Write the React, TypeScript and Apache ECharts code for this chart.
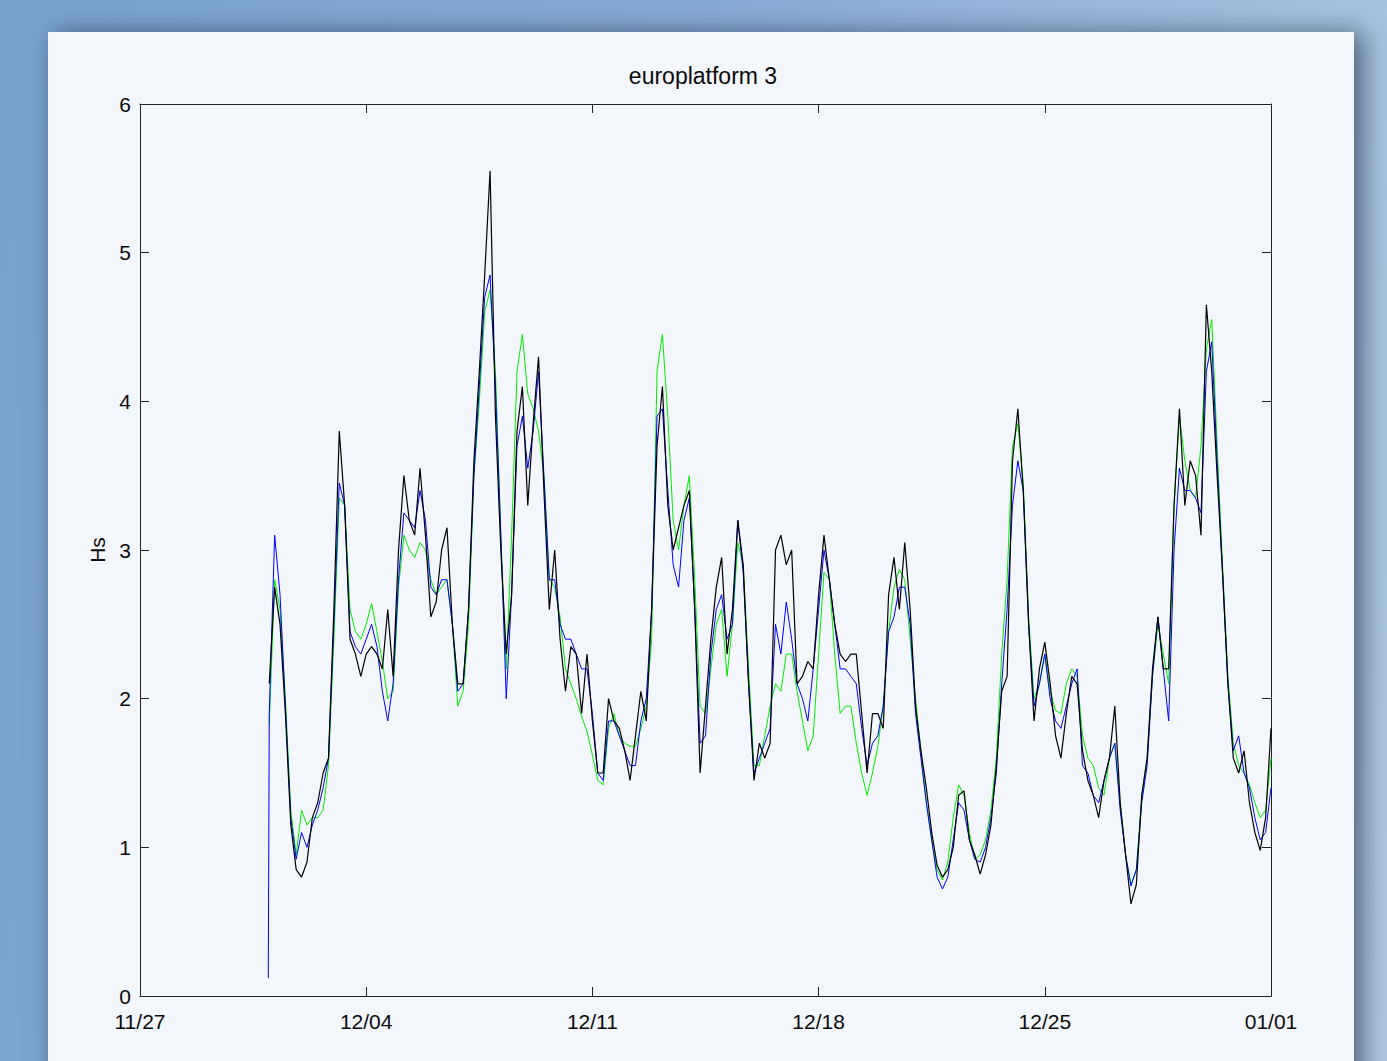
import React, { useEffect, useRef } from "react";
import * as echarts from "echarts";

// ---- data -------------------------------------------------------------
const titleText = "europlatform 3";
const yAxisName = "Hs";
const xTickLabels = ["11/27", "12/04", "12/11", "12/18", "12/25", "01/01"];
const xSpanDays = 35; // 11/27 .. 01/01
const xTickDays = 7;
const yMin = 0;
const yMax = 6;
const yStep = 1;

const firstDay = 4; // 12/01 00:00, in days after 11/27
const stepDays = 1 / 6; // 4-hourly samples
const blueInitial = 0.12; // first blue sample just before 12/01 00:00
const blueInitialDay = 3.97;

// observed (black), 6 samples per day from 12/01 to 01/01
const observed = [
  2.1, 2.75, 2.5, 1.9, 1.15, 0.85,
  0.8, 0.9, 1.2, 1.3, 1.5, 1.6,
  2.6, 3.8, 3.3, 2.4, 2.3, 2.15,
  2.3, 2.35, 2.3, 2.2, 2.6, 2.15,
  3.0, 3.5, 3.2, 3.1, 3.55, 3.1,
  2.55, 2.65, 3.0, 3.15, 2.5, 2.1,
  2.1, 2.6, 3.6, 4.2, 4.85, 5.55,
  3.9, 3.0, 2.3, 2.7, 3.8, 4.1,
  3.3, 3.85, 4.3, 3.4, 2.6, 3.0,
  2.4, 2.05, 2.35, 2.3, 1.9, 2.3,
  1.85, 1.5, 1.5, 2.0, 1.85, 1.8,
  1.65, 1.45, 1.75, 2.05, 1.85, 2.6,
  3.7, 4.1, 3.3, 3.0, 3.15, 3.3,
  3.4, 2.6, 1.5, 1.95, 2.4, 2.75,
  2.95, 2.3, 2.6, 3.2, 2.9, 2.1,
  1.45, 1.7, 1.6, 1.7, 3.0, 3.1,
  2.9, 3.0, 2.1, 2.15, 2.25, 2.2,
  2.7, 3.1, 2.8, 2.5, 2.3, 2.25,
  2.3, 2.3, 1.9, 1.5, 1.9, 1.9,
  1.8, 2.7, 2.95, 2.6, 3.05, 2.6,
  1.95, 1.65, 1.4, 1.1, 0.88, 0.8,
  0.85, 1.0, 1.35, 1.38, 1.05, 0.95,
  0.82, 0.95, 1.15, 1.55, 2.05, 2.15,
  3.6, 3.95, 3.4, 2.5, 1.85, 2.2,
  2.38, 2.1, 1.75, 1.6, 1.9, 2.15,
  2.1, 1.65, 1.45, 1.35, 1.2, 1.45,
  1.6, 1.95, 1.3, 0.95, 0.62, 0.75,
  1.35, 1.6, 2.2, 2.55, 2.2, 2.2,
  3.3, 3.95, 3.3, 3.6, 3.5, 3.1,
  4.65, 4.2, 3.5, 2.85, 2.1, 1.6,
  1.5, 1.65, 1.3, 1.1, 0.98, 1.2,
  1.8,
];

// model (blue)
const modelBlue = [
  1.9, 3.1, 2.7, 1.95, 1.2, 0.92,
  1.1, 1.0, 1.15, 1.25, 1.4, 1.6,
  2.5, 3.45, 3.3, 2.45, 2.35, 2.3,
  2.4, 2.5, 2.35, 2.05, 1.85, 2.1,
  2.8, 3.25, 3.2, 3.15, 3.4, 3.2,
  2.75, 2.7, 2.8, 2.8, 2.5, 2.05,
  2.1, 2.6, 3.5, 4.1, 4.7, 4.85,
  4.1, 3.1, 2.0, 2.7, 3.7, 3.9,
  3.55, 3.8, 4.2, 3.5, 2.8, 2.8,
  2.5, 2.4, 2.4, 2.3, 2.2, 2.2,
  1.9, 1.5, 1.45, 1.85, 1.85, 1.75,
  1.65, 1.55, 1.55, 1.85, 2.0, 2.6,
  3.9, 3.95, 3.4, 2.9, 2.75, 3.2,
  3.35, 2.6, 1.7, 1.75, 2.3, 2.6,
  2.7, 2.4, 2.5, 3.2, 2.85, 2.1,
  1.5, 1.6, 1.7, 1.8, 2.5, 2.3,
  2.65, 2.4, 2.1, 2.0, 1.85, 2.2,
  2.6, 3.0, 2.8, 2.5, 2.2, 2.2,
  2.15, 2.1, 1.8, 1.55, 1.7, 1.75,
  1.95, 2.45, 2.55, 2.75, 2.75, 2.5,
  1.9, 1.6, 1.3, 1.05, 0.8, 0.72,
  0.8, 1.05, 1.3, 1.25, 1.05, 0.92,
  0.9, 1.0, 1.2, 1.5, 2.1, 2.6,
  3.3, 3.6, 3.4, 2.5, 1.95, 2.1,
  2.3, 2.0, 1.85, 1.8, 1.95, 2.1,
  2.2, 1.55, 1.5, 1.35, 1.3, 1.45,
  1.6, 1.7, 1.25, 0.95, 0.74, 0.85,
  1.3, 1.55, 2.15, 2.55, 2.2, 1.85,
  3.0, 3.55, 3.4, 3.4, 3.35, 3.25,
  4.2, 4.4, 3.6, 2.85, 2.1, 1.65,
  1.75, 1.5, 1.4, 1.2, 1.05, 1.1,
  1.4,
];

// model (green)
const modelGreen = [
  1.82, 2.8, 2.6, 2.0, 1.25, 0.95,
  1.25, 1.15, 1.2, 1.2, 1.25, 1.55,
  2.4, 3.35, 3.3, 2.6, 2.45, 2.4,
  2.5, 2.64, 2.45, 2.25, 2.0, 2.05,
  2.75, 3.1, 3.0, 2.95, 3.05, 3.0,
  2.8, 2.7, 2.75, 2.8, 2.5, 1.95,
  2.05, 2.5, 3.5, 4.0, 4.6, 4.75,
  4.2, 3.1, 2.2, 3.1, 4.2, 4.45,
  4.05, 3.95, 3.8, 3.5, 2.8, 2.75,
  2.55, 2.2, 2.1, 2.0, 1.88, 1.78,
  1.62, 1.45, 1.42, 1.8, 1.9, 1.75,
  1.7, 1.68, 1.68, 1.8, 1.95, 2.4,
  4.2, 4.45, 3.9, 3.2, 3.0, 3.3,
  3.5, 2.8, 1.95, 1.9, 2.2, 2.5,
  2.6, 2.15, 2.5, 3.05, 2.9, 2.2,
  1.55, 1.55, 1.75, 1.95, 2.1, 2.05,
  2.3, 2.3, 2.05, 1.85, 1.65, 1.75,
  2.3, 2.85, 2.8, 2.3, 1.9, 1.95,
  1.95, 1.7, 1.5, 1.35, 1.5, 1.68,
  1.95, 2.45, 2.75, 2.87, 2.8, 2.4,
  2.0, 1.65, 1.3, 1.05, 0.85, 0.78,
  0.9, 1.2, 1.42, 1.35, 1.1, 0.92,
  0.95, 1.05, 1.25, 1.6, 2.3, 2.8,
  3.7, 3.85, 3.45, 2.55, 2.0, 2.1,
  2.3, 2.05, 1.92, 1.9, 2.1, 2.2,
  2.15, 1.75, 1.6, 1.55, 1.4, 1.35,
  1.6, 1.7, 1.3, 0.95, 0.75, 0.85,
  1.35, 1.6, 2.15, 2.5, 2.3, 2.1,
  3.3, 3.9, 3.6, 3.4, 3.35, 3.7,
  4.35, 4.55, 3.7, 2.9, 2.15, 1.7,
  1.55, 1.5, 1.42, 1.3, 1.2, 1.25,
  1.6,
];

// ---- helpers ----------------------------------------------------------
const toPairs = (vals: number[]) =>
  vals.map((v, i) => [firstDay + i * stepDays, v]);

const FONT = "'Liberation Sans', Arial, Helvetica, sans-serif";
const AXIS_COLOR = "#222";

export default function App() {
  const ref = useRef<HTMLDivElement>(null);

  useEffect(() => {
    document.body.style.margin = "0";
    if (!ref.current) return;
    const chart = echarts.init(ref.current, undefined, { renderer: "svg" });

    const axisLine = { show: true, onZero: false, lineStyle: { color: AXIS_COLOR, width: 1 } };
    const axisTick = { show: true, inside: true, length: 9, lineStyle: { color: AXIS_COLOR, width: 1 } };
    const labelStyle = { color: "#0a0a0a", fontFamily: FONT, fontSize: 21 };

    const blueData = [[blueInitialDay, blueInitial], ...toPairs(modelBlue)];

    chart.setOption({
      animation: false,
      backgroundColor: "transparent",
      grid: { left: 140, right: 116, top: 104, bottom: 65, show: false },
      graphic: [
        {
          type: "text",
          x: 703,
          y: 76,
          style: {
            text: titleText,
            fill: "#0a0a0a",
            font: `23px ${FONT}`,
            textAlign: "center",
            textVerticalAlign: "middle",
          },
        },
      ],
      xAxis: [
        {
          type: "value",
          min: 0,
          max: xSpanDays,
          interval: xTickDays,
          position: "bottom",
          axisLine,
          axisTick,
          splitLine: { show: false },
          axisLabel: {
            ...labelStyle,
            margin: 15,
            formatter: (v: number) => xTickLabels[Math.round(v / xTickDays)] ?? "",
          },
        },
        {
          type: "value",
          min: 0,
          max: xSpanDays,
          interval: xTickDays,
          position: "top",
          axisLine,
          axisTick,
          splitLine: { show: false },
          axisLabel: { show: false },
        },
      ],
      yAxis: [
        {
          type: "value",
          min: yMin,
          max: yMax,
          interval: yStep,
          position: "left",
          name: yAxisName,
          nameLocation: "middle",
          nameGap: 30,
          nameRotate: 90,
          nameTextStyle: { ...labelStyle },
          axisLine,
          axisTick,
          splitLine: { show: false },
          axisLabel: { ...labelStyle, margin: 9 },
        },
        {
          type: "value",
          min: yMin,
          max: yMax,
          interval: yStep,
          position: "right",
          axisLine,
          axisTick,
          splitLine: { show: false },
          axisLabel: { show: false },
        },
      ],
      series: [
        {
          name: "green",
          type: "line",
          data: toPairs(modelGreen),
          showSymbol: false,
          symbol: "none",
          lineStyle: { color: "#00ee00", width: 1 },
          itemStyle: { color: "#00ee00" },
          xAxisIndex: 0,
          yAxisIndex: 0,
          z: 2,
        },
        {
          name: "blue",
          type: "line",
          data: blueData,
          showSymbol: false,
          symbol: "none",
          lineStyle: { color: "#0000ff", width: 1 },
          itemStyle: { color: "#0000ff" },
          xAxisIndex: 0,
          yAxisIndex: 0,
          z: 3,
        },
        {
          name: "observed",
          type: "line",
          data: toPairs(observed),
          showSymbol: false,
          symbol: "none",
          lineStyle: { color: "#000000", width: 1.2 },
          itemStyle: { color: "#000000" },
          xAxisIndex: 0,
          yAxisIndex: 0,
          z: 4,
        },
      ],
    });

    return () => chart.dispose();
  }, []);

  return (
    <div
      style={{
        position: "relative",
        width: 1387,
        height: 1061,
        overflow: "hidden",
        background: "linear-gradient(100deg, #78a2cb 0%, #86abd3 45%, #b0c7e4 100%)",
      }}
    >
      <div
        style={{
          position: "absolute",
          left: 48,
          top: 32,
          width: 1306,
          height: 1100,
          background: "#f3f6fa",
          boxShadow: "8px 2px 24px rgba(25,40,65,0.65)",
        }}
      />
      <div
        ref={ref}
        style={{ position: "absolute", left: 0, top: 0, width: 1387, height: 1061 }}
      />
    </div>
  );
}
